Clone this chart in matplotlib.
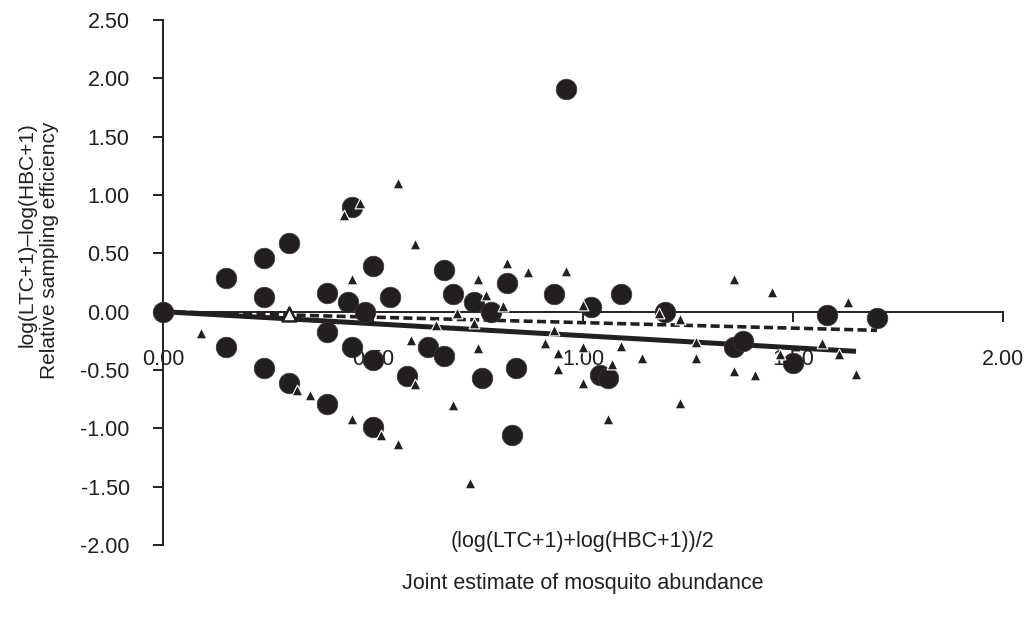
import matplotlib.pyplot as plt

plt.rcParams['font.family'] = ['Liberation Sans', 'DejaVu Sans']

# circles
circ_x = [0.00, 0.15, 0.15, 0.24, 0.24, 0.24, 0.30, 0.30, 0.39, 0.39, 0.39,
          0.45, 0.44, 0.45, 0.48, 0.50, 0.50, 0.50, 0.54, 0.58, 0.63, 0.67,
          0.67, 0.69, 0.74, 0.78, 0.76, 0.82, 0.84, 0.83, 0.93, 0.96, 1.02,
          1.04, 1.06, 1.09, 1.195, 1.36, 1.38, 1.50, 1.58, 1.70]
circ_y = [0.00, 0.29, -0.30, 0.46, 0.13, -0.48, 0.59, -0.61, 0.16, -0.17, -0.79,
          0.90, 0.08, -0.30, 0.00, 0.39, -0.41, -0.99, 0.13, -0.55, -0.30, 0.36,
          -0.38, 0.15, 0.08, 0.00, -0.57, 0.25, -0.48, -1.06, 0.15, 1.91, 0.04,
          -0.54, -0.57, 0.15, 0.00, -0.30, -0.25, -0.44, -0.03, -0.05]

# triangles
tri_x = [0.09, 0.32, 0.35, 0.45, 0.52, 0.56, 0.43, 0.47, 0.45, 0.56, 0.60,
         0.75, 0.82, 0.87, 0.96, 0.77, 0.81, 1.00, 0.70, 0.65, 0.74, 0.93,
         0.59, 0.91, 0.94, 1.00, 1.09, 1.07, 0.75, 0.94, 1.00, 0.60, 1.14,
         1.27, 1.27, 0.69, 1.23, 1.06, 0.73, 1.36, 1.45, 1.63, 1.18, 1.23,
         1.57, 1.61, 1.47, 1.36, 1.41, 1.65]
tri_y = [-0.18, -0.67, -0.71, -0.92, -1.06, -1.13, 0.83, 0.93, 0.28, 1.10, 0.58,
         0.28, 0.42, 0.34, 0.35, 0.14, 0.05, 0.06, -0.01, -0.11, -0.10, -0.16,
         -0.24, -0.27, -0.35, -0.30, -0.29, -0.45, -0.31, -0.49, -0.61, -0.62, -0.40,
         -0.26, -0.40, -0.80, -0.78, -0.92, -1.47, 0.28, 0.17, 0.08, -0.01, -0.06,
         -0.27, -0.36, -0.36, -0.51, -0.54, -0.53]

# open triangle
open_x = [0.30]
open_y = [-0.02]

# fitted lines
reg_x = [0.00, 1.65]
reg_y = [0.00, -0.34]
dash_x = [0.00, 1.70]
dash_y = [0.00, -0.16]

xticks = [0.0, 0.5, 1.0, 1.5, 2.0]
yticks = [-2.0, -1.5, -1.0, -0.5, 0.0, 0.5, 1.0, 1.5, 2.0, 2.5]

fig = plt.figure(figsize=(10.3, 6.17), dpi=100)
ax = fig.add_axes([163/1030, 1 - 545/617, 840/1030, 525/617])

ink = '#231f20'

ax.plot(dash_x, dash_y, color=ink, lw=2.6, ls=(0, (2.5, 1.2)), zorder=2)
ax.plot(reg_x, reg_y, color=ink, lw=3.6, solid_capstyle='butt', zorder=2)

ax.scatter(circ_x, circ_y, s=220, color=ink, edgecolors='#3a3a3a',
           linewidths=0.5, zorder=4, clip_on=False)
ax.scatter(tri_x, tri_y, s=60, marker='^', color=ink, edgecolors='white',
           linewidths=0.8, zorder=5, clip_on=False)
ax.scatter(open_x, open_y, s=100, marker='^', color='white', edgecolors=ink,
           linewidths=1.8, zorder=5, clip_on=False)

ax.set_xlim(0, 2.0)
ax.set_ylim(-2.0, 2.5)

ax.spines['top'].set_visible(False)
ax.spines['right'].set_visible(False)
ax.spines['bottom'].set_position(('data', 0))
for s in ('left', 'bottom'):
    ax.spines[s].set_linewidth(1.4)
    ax.spines[s].set_color(ink)
    ax.spines[s].set_zorder(3)

ax.set_xticks(xticks)
ax.set_xticklabels([f'{v:.2f}' for v in xticks])
ax.set_yticks(yticks)
ax.set_yticklabels([f'{v:.2f}' for v in yticks])
ax.tick_params(axis='x', direction='out', length=7, width=1.4, color=ink,
               pad=20, labelsize=15.5, labelcolor=ink)
ax.tick_params(axis='y', direction='out', length=7, width=1.4, color=ink,
               pad=17, labelsize=15.5, labelcolor=ink)

fig.text(27/1030, 1 - 122/617, 'log(LTC+1)\u2013log(HBC+1)', rotation=90,
         ha='center', va='top', fontsize=15, color=ink)
fig.text(50/1030, 1 - 122/617, 'Relative sampling efficiency', rotation=90,
         ha='center', va='top', fontsize=15, color=ink)
fig.text(583/1030, 1 - 541/617, '(log(LTC+1)+log(HBC+1))/2',
         ha='center', va='center', fontsize=15.5, color=ink)
fig.text(583/1030, 1 - 583/617, 'Joint estimate of mosquito abundance',
         ha='center', va='center', fontsize=15.5, color=ink)

fig.savefig('out.png', dpi=100)
